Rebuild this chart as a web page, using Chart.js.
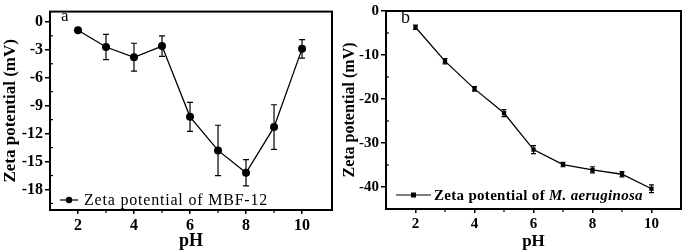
<!DOCTYPE html>
<html>
<head>
<meta charset="utf-8">
<script src="https://cdn.jsdelivr.net/npm/chart.js@4"></script>
<style>
  html, body { margin: 0; padding: 0; background: #fff; }
  #wrap { position: relative; width: 685px; height: 252px; overflow: hidden; }
  canvas { position: absolute; top: 0; }
  #ca { left: 0; }
  #cb { left: 340px; }
</style>
</head>
<body>
<div id="wrap">
  <canvas id="ca" width="340" height="252"></canvas>
  <canvas id="cb" width="345" height="252"></canvas>
</div>
<script>
// ---- Data ----
const pHValues = [2, 3, 4, 5, 6, 7, 8, 9, 10];
const zetaMBF = [-0.9, -2.7, -3.8, -2.6, -10.2, -13.8, -16.2, -11.3, -2.9];
const errMBF = [0.2, 1.35, 1.5, 1.1, 1.55, 2.7, 1.4, 2.4, 1.0];
const zetaMA = [-3.7, -11.4, -17.7, -23.2, -31.5, -34.9, -36.1, -37.1, -40.4];
const errMA = [0.5, 0.6, 0.5, 0.8, 0.9, 0.5, 0.7, 0.6, 0.9];
const xTickLabels = [2, 4, 6, 8, 10];
const yTicksA = [0, -3, -6, -9, -12, -15, -18];
const yMinorA = [-1.5, -4.5, -7.5, -10.5, -13.5, -16.5, -19.5];
const xMinorA = [3, 5, 7, 9];
const yTicksB = [0, -10, -20, -30, -40];
const yMinorB = [-5, -15, -25, -35];
const xMinorB = [3, 5, 7, 9];
const legendA = 'Zeta potential of MBF-12';
const legendB1 = 'Zeta potential of ';
const legendB2 = 'M. aeruginosa';

const SERIF = '"Liberation Serif", "Times New Roman", serif';

function framePlugin(opts) {
  return {
    id: 'frame',
    afterDatasetsDraw(chart) {
      const ctx = chart.ctx;
      const a = chart.chartArea;
      const xs = chart.scales.x, ys = chart.scales.y;
      const ds = chart.data.datasets[0];
      ctx.save();
      // error bars
      ctx.strokeStyle = '#000';
      ctx.lineWidth = 1.2;
      opts.err.forEach((e, i) => {
        const px = xs.getPixelForValue(ds.data[i].x);
        const top = ys.getPixelForValue(ds.data[i].y + e);
        const bot = ys.getPixelForValue(ds.data[i].y - e);
        ctx.beginPath();
        ctx.moveTo(px, top); ctx.lineTo(px, bot);
        ctx.moveTo(px - opts.cap, top); ctx.lineTo(px + opts.cap, top);
        ctx.moveTo(px - opts.cap, bot); ctx.lineTo(px + opts.cap, bot);
        ctx.stroke();
      });
      // minor ticks (inward)
      opts.yMinor.forEach(v => {
        const py = ys.getPixelForValue(v);
        if (py < a.top || py > a.bottom) return;
        ctx.beginPath(); ctx.moveTo(a.left, py); ctx.lineTo(a.left + 3, py); ctx.stroke();
      });
      opts.xMinor.forEach(v => {
        const px = xs.getPixelForValue(v);
        ctx.beginPath(); ctx.moveTo(px, a.bottom); ctx.lineTo(px, a.bottom + 3); ctx.stroke();
      });
      // frame
      ctx.lineWidth = 2;
      ctx.strokeRect(a.left, a.top, a.right - a.left, a.bottom - a.top);
      // panel label
      ctx.fillStyle = '#000';
      ctx.font = opts.panelFont;
      ctx.textBaseline = 'alphabetic';
      ctx.textAlign = 'left';
      ctx.fillText(opts.panel, opts.panelX, opts.panelY);
      // legend
      const ly = opts.legY;
      ctx.lineWidth = 1.2;
      ctx.beginPath(); ctx.moveTo(opts.legX0, ly); ctx.lineTo(opts.legX1, ly); ctx.stroke();
      const mx = (opts.legX0 + opts.legX1) / 2;
      if (opts.marker === 'circle') {
        ctx.beginPath(); ctx.arc(mx, ly, 3.2, 0, Math.PI * 2); ctx.fill();
      } else {
        ctx.fillRect(mx - 2.5, ly - 2.5, 5, 5);
      }
      ctx.textBaseline = 'middle';
      if ('letterSpacing' in ctx) ctx.letterSpacing = opts.legSpacing || '0px';
      let tx = opts.legTextX;
      opts.legText.forEach(part => {
        ctx.font = part.font;
        ctx.fillText(part.t, tx, ly + 1);
        tx += ctx.measureText(part.t).width;
      });
      ctx.restore();
    }
  };
}

function makeChart(id, yVals, cfg) {
  const data = pHValues.map((p, i) => ({ x: p, y: yVals[i] }));
  return new Chart(document.getElementById(id), {
    type: 'scatter',
    data: {
      datasets: [{
        data,
        showLine: true,
        borderColor: '#000',
        borderWidth: 1.3,
        backgroundColor: '#000',
        pointStyle: cfg.pointStyle,
        pointRadius: cfg.pointRadius,
        pointBorderWidth: 0,
        tension: 0
      }]
    },
    options: {
      responsive: false,
      animation: false,
      devicePixelRatio: 1,
      layout: { padding: cfg.padding },
      plugins: { legend: { display: false }, tooltip: { enabled: false } },
      scales: {
        x: {
          type: 'linear',
          min: cfg.xMin, max: cfg.xMax,
          afterBuildTicks: s => { s.ticks = xTickLabels.map(v => ({ value: v })); },
          afterFit: s => { s.height = cfg.xAxisH; },
          grid: { drawOnChartArea: false, drawTicks: true, tickLength: 4, color: '#000', lineWidth: 1.5 },
          border: { display: false },
          ticks: { color: '#000', font: { family: SERIF, size: cfg.tickSize, weight: 'bold' }, padding: 2, maxRotation: 0 },
          title: { display: true, text: 'pH', color: '#000', font: { family: SERIF, size: cfg.titleSize, weight: 'bold' }, padding: { top: 0, bottom: 0 } }
        },
        y: {
          type: 'linear',
          min: cfg.yMin, max: cfg.yMax,
          afterBuildTicks: s => { s.ticks = cfg.yTicks.map(v => ({ value: v })); },
          afterFit: s => { s.width = cfg.yAxisW; },
          grid: { drawOnChartArea: false, drawTicks: true, tickLength: 5, color: '#000', lineWidth: 1.5 },
          border: { display: false },
          ticks: { color: '#000', font: { family: SERIF, size: cfg.tickSize, weight: 'bold' }, padding: 2 },
          title: { display: true, text: 'Zeta potential (mV)', color: '#000', font: { family: SERIF, size: cfg.yTitleSize, weight: 'bold' }, padding: { top: 0, bottom: 0 } }
        }
      }
    },
    plugins: [framePlugin(cfg.extra)]
  });
}

makeChart('ca', zetaMBF, {
  pointStyle: 'circle', pointRadius: 4,
  padding: { left: 0, right: 8, top: 4, bottom: 0 },
  xMin: 1, xMax: 11.07, yMin: -20.2, yMax: 1.1,
  yTicks: yTicksA, xAxisH: 42, yAxisW: 50,
  tickSize: 16, titleSize: 18, yTitleSize: 17,
  extra: {
    err: errMBF, cap: 3, yMinor: yMinorA, xMinor: xMinorA,
    panel: 'a', panelX: 61, panelY: 21, panelFont: '17px ' + SERIF,
    legX0: 60, legX1: 78, legY: 200, marker: 'circle', legTextX: 84,
    legSpacing: '0.8px',
    legText: [{ t: legendA, font: '16px ' + SERIF }]
  }
});

makeChart('cb', zetaMA, {
  pointStyle: 'rect', pointRadius: 3,
  padding: { left: 0, right: 3, top: 5, bottom: 0 },
  xMin: 1, xMax: 11, yMin: -45, yMax: 0,
  yTicks: yTicksB, xAxisH: 43, yAxisW: 46,
  tickSize: 15, titleSize: 17, yTitleSize: 16,
  extra: {
    err: errMA, cap: 2.5, yMinor: yMinorB, xMinor: xMinorB,
    panel: 'b', panelX: 61, panelY: 23, panelFont: '18px ' + SERIF,
    legX0: 56, legX1: 91, legY: 195, marker: 'rect', legTextX: 94,
    legSpacing: '0.3px',
    legText: [{ t: legendB1, font: 'bold 15px ' + SERIF }, { t: legendB2, font: 'italic bold 15px ' + SERIF }]
  }
});
</script>
</body>
</html>
